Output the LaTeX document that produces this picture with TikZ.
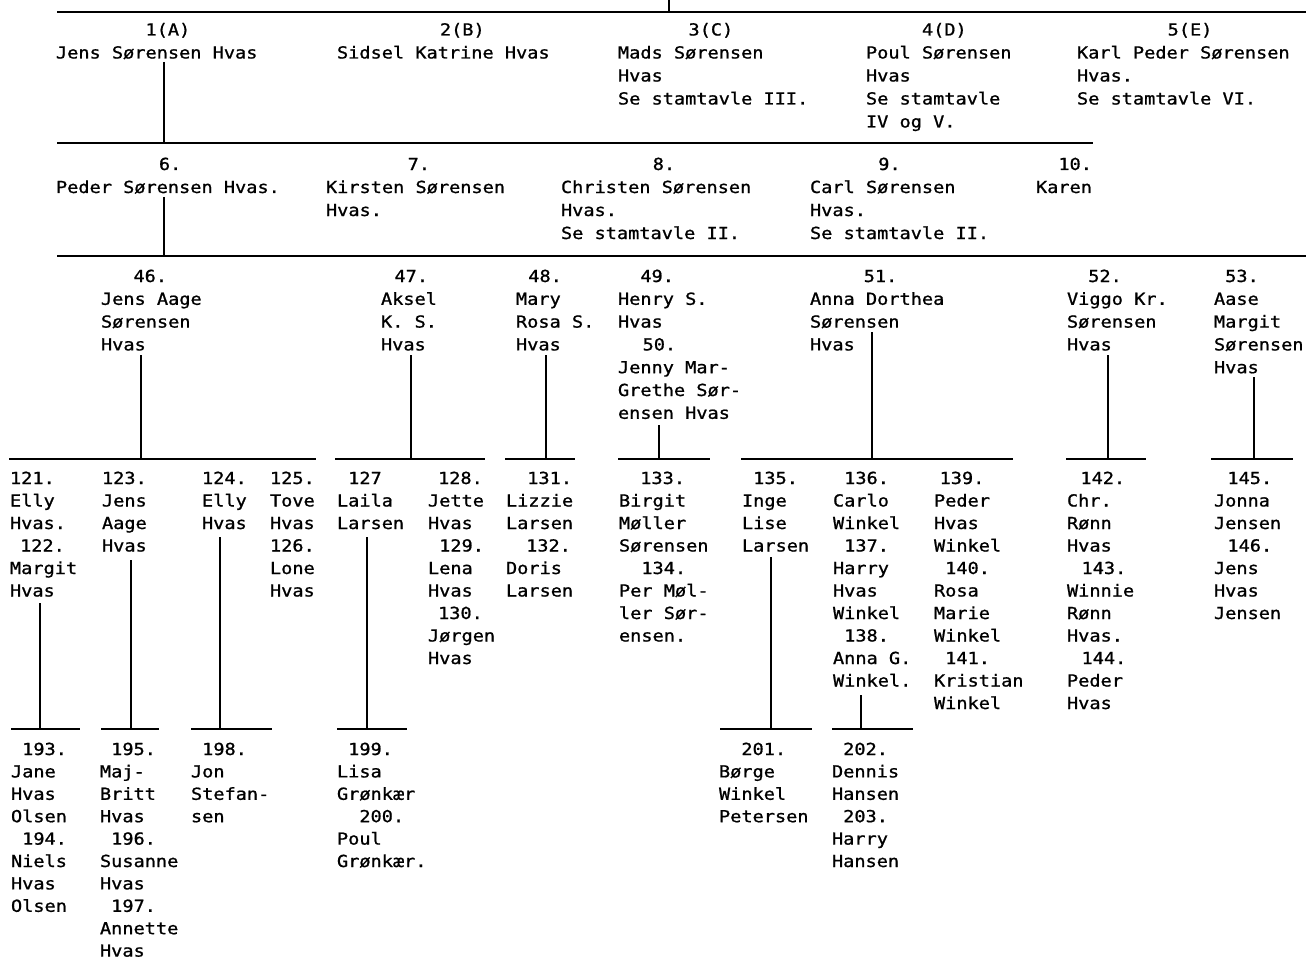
\documentclass[tikz,border=0pt]{standalone}
\usepackage{fontspec}
\setmonofont[FakeStretch=1.12,FakeBold=1]{DejaVu Sans Mono}
\newlength\cw \setlength\cw{11.19pt}
\newcommand\ind[1]{\hspace*{#1\cw}}
\newcommand\fl{\rule{0pt}{16pt}}
\tikzset{
  blk/.style={anchor=north west, inner sep=0pt, outer sep=0pt, align=left},
  gA/.style={blk, font=\ttfamily\fontsize{16.6}{23}\selectfont},
  gB/.style={blk, font=\ttfamily\fontsize{16.6}{22.8}\selectfont},
  gC/.style={blk, font=\ttfamily\fontsize{16.6}{22.5}\selectfont},
  gD/.style={blk, font=\ttfamily\fontsize{16.6}{22.4}\selectfont},
  lnk/.style={line width=1.8pt, black},
}
\begin{document}
\begin{tikzpicture}[x=1pt,y=-1pt]
\useasboundingbox (0,0) rectangle (1306,960);

% ---------- generation 1 ----------
\node[gA] (n1) at (56,19.5) {\fl\ind{8}1(A)\\Jens Sørensen Hvas};
\node[gA] (n2) at (337,19.5) {\fl\ind{9.2}2(B)\\Sidsel Katrine Hvas};
\node[gA] (n3) at (618,19.5) {\fl\ind{6.3}3(C)\\Mads Sørensen\\Hvas\\Se stamtavle III.};
\node[gA] (n4) at (866,19.5) {\fl\ind{5}4(D)\\Poul Sørensen\\Hvas\\Se stamtavle\\IV og V.};
\node[gA] (n5) at (1077,19.5) {\fl\ind{8.1}5(E)\\Karl Peder Sørensen\\Hvas.\\Se stamtavle VI.};

% ---------- generation 2 ----------
\node[gA] (n6) at (56,154) {\fl\ind{9.2}6.\\Peder Sørensen Hvas.};
\node[gA] (n7) at (326,154) {\fl\ind{7.3}7.\\Kirsten Sørensen\\Hvas.};
\node[gA] (n8) at (561,154) {\fl\ind{8.2}8.\\Christen Sørensen\\Hvas.\\Se stamtavle II.};
\node[gA] (n9) at (810,154) {\fl\ind{6.1}9.\\Carl Sørensen\\Hvas.\\Se stamtavle II.};
\node[gA] (n10) at (1036,154) {\fl\ind{2}10.\\Karen};

% ---------- generation 3 ----------
\node[gB] (n46) at (101,266) {\fl\ind{2.9}46.\\Jens Aage\\Sørensen\\Hvas};
\node[gB] (n47) at (381,266) {\fl\ind{1.2}47.\\Aksel\\K. S.\\Hvas};
\node[gB] (n48) at (516,266) {\fl\ind{1.1}48.\\Mary\\Rosa S.\\Hvas};
\node[gB] (n49) at (618,266) {\fl\ind{2}49.\\Henry S.\\Hvas\\\ind{2.2}50.\\Jenny Mar-\\Grethe Sør-\\ensen Hvas};
\node[gB] (n51) at (810,266) {\fl\ind{4.8}51.\\Anna Dorthea\\Sørensen\\Hvas};
\node[gB] (n52) at (1067,266) {\fl\ind{1.9}52.\\Viggo Kr.\\Sørensen\\Hvas};
\node[gB] (n53) at (1214,266) {\fl\ind{1}53.\\Aase\\Margit\\Sørensen\\Hvas};

% ---------- generation 4 ----------
\node[gC] (n121) at (10,468) {\fl 121.\\Elly\\Hvas.\\\ind{0.9}122.\\Margit\\Hvas};
\node[gC] (n123) at (102,468) {\fl 123.\\Jens\\Aage\\Hvas};
\node[gC] (n124) at (202,468) {\fl 124.\\Elly\\Hvas};
\node[gC] (n125) at (270,468) {\fl 125.\\Tove\\Hvas\\126.\\Lone\\Hvas};
\node[gC] (n127) at (337,468) {\fl\ind{1}127\\Laila\\Larsen};
\node[gC] (n128) at (428,468) {\fl\ind{0.9}128.\\Jette\\Hvas\\\ind{1}129.\\Lena\\Hvas\\\ind{0.9}130.\\Jørgen\\Hvas};
\node[gC] (n131) at (506,468) {\fl\ind{1.9}131.\\Lizzie\\Larsen\\\ind{1.8}132.\\Doris\\Larsen};
\node[gC] (n133) at (619,468) {\fl\ind{1.9}133.\\Birgit\\Møller\\Sørensen\\\ind{2}134.\\Per Møl-\\ler Sør-\\ensen.};
\node[gC] (n135) at (742,468) {\fl\ind{1}135.\\Inge\\Lise\\Larsen};
\node[gC] (n136) at (833,468) {\fl\ind{1}136.\\Carlo\\Winkel\\\ind{1}137.\\Harry\\Hvas\\Winkel\\\ind{1}138.\\Anna G.\\Winkel.};
\node[gC] (n139) at (934,468) {\fl\ind{0.5}139.\\Peder\\Hvas\\Winkel\\\ind{1}140.\\Rosa\\Marie\\Winkel\\\ind{1}141.\\Kristian\\Winkel};
\node[gC] (n142) at (1067,468) {\fl\ind{1.2}142.\\Chr.\\Rønn\\Hvas\\\ind{1.3}143.\\Winnie\\Rønn\\Hvas.\\\ind{1.3}144.\\Peder\\Hvas};
\node[gC] (n145) at (1214,468) {\fl\ind{1.2}145.\\Jonna\\Jensen\\\ind{1.2}146.\\Jens\\Hvas\\Jensen};

% ---------- generation 5 ----------
\node[gD] (n193) at (11,739) {\fl\ind{1}193.\\Jane\\Hvas\\Olsen\\\ind{1}194.\\Niels\\Hvas\\Olsen};
\node[gD] (n195) at (100,739) {\fl\ind{1}195.\\Maj-\\Britt\\Hvas\\\ind{1}196.\\Susanne\\Hvas\\\ind{1}197.\\Annette\\Hvas};
\node[gD] (n198) at (191,739) {\fl\ind{1}198.\\Jon\\Stefan-\\sen};
\node[gD] (n199) at (337,739) {\fl\ind{1}199.\\Lisa\\Grønkær\\\ind{2}200.\\Poul\\Grønkær.};
\node[gD] (n201) at (719,739) {\fl\ind{2}201.\\Børge\\Winkel\\Petersen};
\node[gD] (n202) at (832,739) {\fl\ind{1}202.\\Dennis\\Hansen\\\ind{1}203.\\Harry\\Hansen};

% ---------- connector points ----------
\coordinate (top) at (669,0);
\coordinate (l0) at (57,12);   \coordinate (r0) at (1306,12);
\coordinate (d1) at (164,62);
\coordinate (l1) at (57,143);  \coordinate (r1) at (1093,143);
\coordinate (d6) at (164,197);
\coordinate (l6) at (57,256);  \coordinate (r6) at (1306,256);

\coordinate (d46) at (141,355);   \coordinate (l46) at (9,459);    \coordinate (r46) at (316,459);
\coordinate (d47) at (411,355);   \coordinate (l47) at (335,459);  \coordinate (r47) at (485,459);
\coordinate (d48) at (546,355);   \coordinate (l48) at (505,459);  \coordinate (r48) at (575,459);
\coordinate (d49) at (659,425);   \coordinate (l49) at (618,459);  \coordinate (r49) at (710,459);
\coordinate (d51) at (872,332);   \coordinate (l51) at (741,459);  \coordinate (r51) at (1013,459);
\coordinate (d52) at (1108,355);  \coordinate (l52) at (1066,459); \coordinate (r52) at (1146,459);
\coordinate (d53) at (1254,377);  \coordinate (l53) at (1211,459); \coordinate (r53) at (1293,459);

\coordinate (d121) at (40,603);  \coordinate (l121) at (11,729);  \coordinate (r121) at (80,729);
\coordinate (d123) at (131,560); \coordinate (l123) at (101,729); \coordinate (r123) at (159,729);
\coordinate (d124) at (220,537); \coordinate (l124) at (191,729); \coordinate (r124) at (272,729);
\coordinate (d127) at (367,537); \coordinate (l127) at (337,729); \coordinate (r127) at (407,729);
\coordinate (d135) at (771,557); \coordinate (l135) at (720,729); \coordinate (r135) at (812,729);
\coordinate (d136) at (861,695); \coordinate (l136) at (832,729); \coordinate (r136) at (913,729);

% ---------- connectors ----------
\draw[lnk] (top) -- (top |- l0);
\draw[lnk] (l0) -- (r0);
\foreach \k in {1,6,46,47,48,49,51,52,53,121,123,124,127,135,136}{
  \draw[lnk] (d\k) -- (d\k |- l\k);
  \draw[lnk] (l\k) -- (r\k);
}
\end{tikzpicture}
\end{document}
